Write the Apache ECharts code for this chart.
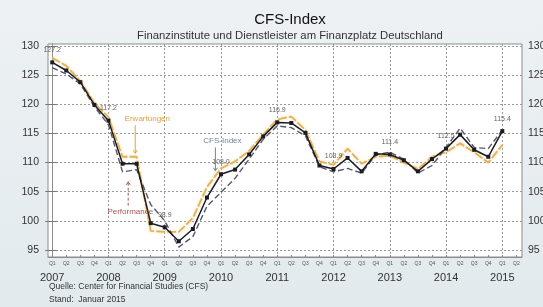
<!DOCTYPE html>
<html>
<head>
<meta charset="utf-8">
<script src="https://cdn.jsdelivr.net/npm/echarts@6/dist/echarts.min.js"></script>
<style>html,body{margin:0;padding:0;}#c{width:543px;height:307px;}</style>
</head>
<body>
<div id="c"></div>
<script>
// Quarters from 2007 Q1 (index 0) to 2015 Q1 (index 32)
const quarterNames = ['Q1','Q2','Q3','Q4'];
const yearLabels = ['2007','2008','2009','2010','2011','2012','2013','2014','2015'];
const yTicks = [95,100,105,110,115,120,125,130];

const cfsIndex = [127.2,125.8,123.8,119.9,117.2,109.8,109.8,99.6,98.9,96.5,98.6,104.0,108.0,108.8,111.4,114.5,116.9,116.8,115.1,109.5,108.9,110.8,108.5,111.5,111.4,110.4,108.5,110.6,112.4,114.8,112.2,111.0,115.4];
const erwartungen = [128.0,126.6,124.0,120.2,117.8,111.0,111.0,98.3,98.1,98.1,100.5,105.8,109.0,110.2,112.0,114.8,117.4,117.9,115.6,110.2,109.6,112.4,109.8,111.0,111.2,110.0,108.9,111.0,111.8,113.3,111.8,110.0,113.0];
const performance = [126.3,125.2,123.5,119.6,116.5,108.4,108.8,102.8,100.0,95.5,97.3,102.5,104.9,107.3,110.6,114.0,116.3,116.0,114.6,109.3,108.4,109.0,108.2,111.3,111.8,110.6,108.2,109.5,112.6,115.9,112.6,112.4,115.6];
const labeledPoints = {0:'127.2',4:'117.2',8:'98.9',12:'108.0',16:'116.9',20:'108.9',24:'111.4',28:'112.5',32:'115.4'};

const quarterTicks = [];
for (let i = 0; i <= 33; i++) quarterTicks.push(i);
const yearTicks = yearLabels.map((_, i) => i * 4);

const chart = echarts.init(document.getElementById('c'), null, {renderer:'canvas'});

function pairs(arr){ return arr.map((v,i)=>[i,v]); }

const cfsData = cfsIndex.map((v,i)=>{
  const item = {value:[i,v]};
  if (labeledPoints[i] !== undefined) {
    item.label = {show:true, position:'top', distance:7, formatter: labeledPoints[i], fontSize:7, color:'#666', fontFamily:'Liberation Sans'};
  }
  return item;
});

const axisFont = 'Liberation Sans';
const option = {
  backgroundColor: {type:'linear', x:0, y:0, x2:0, y2:1, colorStops:[{offset:0,color:'#edf1f3'},{offset:1,color:'#e2eaee'}]},
  animation:false,
  title: {
    text:'CFS-Index',
    subtext:'Finanzinstitute und Dienstleister am Finanzplatz Deutschland',
    left:285, textAlign:'center', top:7, itemGap:3,
    textStyle:{fontSize:15, fontWeight:'normal', color:'#111', fontFamily:axisFont},
    subtextStyle:{fontSize:11.3, color:'#333', fontFamily:axisFont}
  },
  grid: {left:48, right:21, top:44, bottom:50, outerBoundsMode:'none', containLabel:false, show:true, backgroundColor:'#ffffff', borderColor:'#8c8c8c', borderWidth:1},
  xAxis: [
    {type:'value', min:-0.3, max:33.4, position:'bottom',
     axisLine:{show:true, lineStyle:{color:'#8c8c8c'}},
     axisTick:{show:true, inside:true, length:2, customValues:quarterTicks, lineStyle:{color:'#888'}},
     axisLabel:{customValues:quarterTicks, formatter:v=>quarterNames[Math.round(v)%4], fontSize:5, color:'#555', margin:4, fontFamily:axisFont},
     splitLine:{show:false}},
    {type:'value', min:-0.3, max:33.4, position:'bottom',
     axisLine:{show:false},
     axisTick:{show:false, customValues:yearTicks},
     axisLabel:{customValues:yearTicks, formatter:v=>yearLabels[Math.round(v/4)], fontSize:11, color:'#333', margin:15, fontFamily:axisFont},
     splitLine:{show:true, lineStyle:{color:'#9a9a9a', type:[2,2], width:1}}}
  ],
  yAxis: [
    {type:'value', min:93.8, max:130.35, position:'left',
     axisLine:{show:true, lineStyle:{color:'#8c8c8c'}},
     axisTick:{show:true, length:7, customValues:yTicks, lineStyle:{color:'#777'}},
     axisLabel:{customValues:yTicks, fontSize:10.5, color:'#333', margin:9, fontFamily:axisFont},
     splitLine:{show:true, lineStyle:{color:'#9a9a9a', type:[2,2], width:1}}},
    {type:'value', min:93.8, max:130.35, position:'right',
     axisLine:{show:true, lineStyle:{color:'#8c8c8c'}},
     axisTick:{show:true, length:5, customValues:yTicks, lineStyle:{color:'#777'}},
     axisLabel:{customValues:yTicks, fontSize:10.5, color:'#333', margin:6, fontFamily:axisFont},
     splitLine:{show:false}}
  ],
  series: [
    {name:'Erwartungen', type:'line', data:pairs(erwartungen), symbol:'none', z:2,
     lineStyle:{color:'#e6b05a', width:1.8, type:[9,2], shadowColor:'rgba(240,220,150,0.9)', shadowBlur:3}},
    {name:'Performance', type:'line', data:pairs(performance), symbol:'none', z:3,
     lineStyle:{color:'#55556e', width:1.4, type:[6,3]}},
    {name:'CFS-Index', type:'line', data:cfsData, symbol:'rect', symbolSize:4, z:4,
     itemStyle:{color:'#1c1c24'},
     lineStyle:{color:'#1c1c24', width:1.5}}
  ]
};
chart.setOption(option);

// Annotations anchored in data coordinates
const annotations = [
  {text:'Erwartungen', color:'#e0a040', tx:6.76, ty:117.5, ax:5.9, a1:116.4, a2:111.6, dashed:false},
  {text:'CFS-Index', color:'#70809a', tx:12.1, ty:113.7, ax:11.6, a1:112.6, a2:108.6, dashed:false},
  {text:'Performance', color:'#a05858', tx:5.55, ty:101.6, ax:5.4, a1:102.6, a2:106.7, dashed:true}
];
const toPx = (q,v) => chart.convertToPixel({xAxisIndex:0, yAxisIndex:0}, [q,v]);
const graphics = [];
annotations.forEach(a => {
  const t = toPx(a.tx, a.ty);
  const p1 = toPx(a.ax, a.a1), p2 = toPx(a.ax, a.a2);
  graphics.push({type:'text', x:t[0], y:t[1], z:10,
    style:{text:a.text, fill:a.color, font:'8px "Liberation Sans"', textAlign:'center', textVerticalAlign:'middle'}});
  graphics.push({type:'line', z:10, shape:{x1:p1[0], y1:p1[1], x2:p2[0], y2:p2[1]},
    style:{stroke:a.color, lineWidth:1, lineDash: a.dashed ? [3,2] : null}});
  const dir = p2[1] > p1[1] ? 1 : -1;
  graphics.push({type:'polyline', z:10, shape:{points:[[p2[0]-2,p2[1]-dir*3],[p2[0],p2[1]],[p2[0]+2,p2[1]-dir*3]]},
    style:{stroke:a.color, lineWidth:1, fill:null}});
});
graphics.push({type:'text', left:49, top:282, style:{text:'Quelle: Center for Financial Studies (CFS)', fill:'#333', font:'8.5px "Liberation Sans"'}});
graphics.push({type:'text', left:49, top:295, style:{text:'Stand:  Januar 2015', fill:'#333', font:'8.5px "Liberation Sans"'}});
chart.setOption({graphic: graphics});
</script>
</body>
</html>
